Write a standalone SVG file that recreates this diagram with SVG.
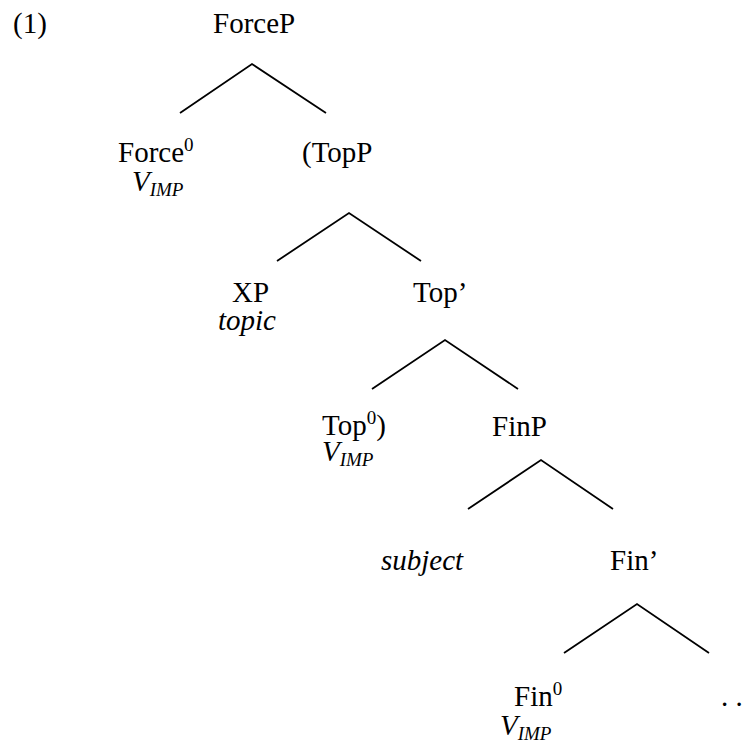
<svg xmlns="http://www.w3.org/2000/svg" width="750" height="750" viewBox="0 0 750 750">
<style>
text{font-family:"Liberation Serif","Times New Roman",serif;font-size:29px;fill:#000}
.it{font-style:italic}
.sup{font-size:19px}
.sub{font-size:19px;font-style:italic}
.edge{fill:none;stroke:#000;stroke-width:1.8}
</style>
<rect width="750" height="750" fill="#fff"/>
<g id="connectors">
<polyline class="edge" points="180,113 252,64 326,113"/>
<polyline class="edge" points="277,261 349,213 421,261"/>
<polyline class="edge" points="372,389 445,340 518,389"/>
<polyline class="edge" points="468,509 541,460 613,509"/>
<polyline class="edge" points="564,653 637,604 709,653"/>
</g>
<g font-family="Liberation Serif, serif" font-size="29">
<g id="label-1"><text x="13" y="33">(1)</text></g>
<g id="ForceP"><text x="213" y="33">ForceP</text></g>
<g id="Force0"><text x="118" y="162">Force<tspan class="sup" dy="-11">0</tspan></text>
<text x="132" y="191" class="it">V<tspan class="sub" dy="5">IMP</tspan></text></g>
<g id="TopP"><text x="302" y="162">(TopP</text></g>
<g id="XP"><text x="232" y="302">XP</text><text x="218" y="330" class="it">topic</text></g>
<g id="TopBar"><text x="413" y="302">Top’</text></g>
<g id="Top0"><text x="322" y="435">Top<tspan class="sup" dy="-11">0</tspan><tspan dy="11">)</tspan></text>
<text x="322" y="461" class="it">V<tspan class="sub" dy="5">IMP</tspan></text></g>
<g id="FinP"><text x="492" y="436">FinP</text></g>
<g id="subject"><text x="381" y="570" class="it">subject</text></g>
<g id="FinBar"><text x="610" y="570">Fin’</text></g>
<g id="Fin0"><text x="514" y="706">Fin<tspan class="sup" dy="-11">0</tspan></text>
<text x="500" y="735" class="it">V<tspan class="sub" dy="5">IMP</tspan></text></g>
<g id="ellipsis"><text x="721" y="706">. .</text></g>
</g>
</svg>
